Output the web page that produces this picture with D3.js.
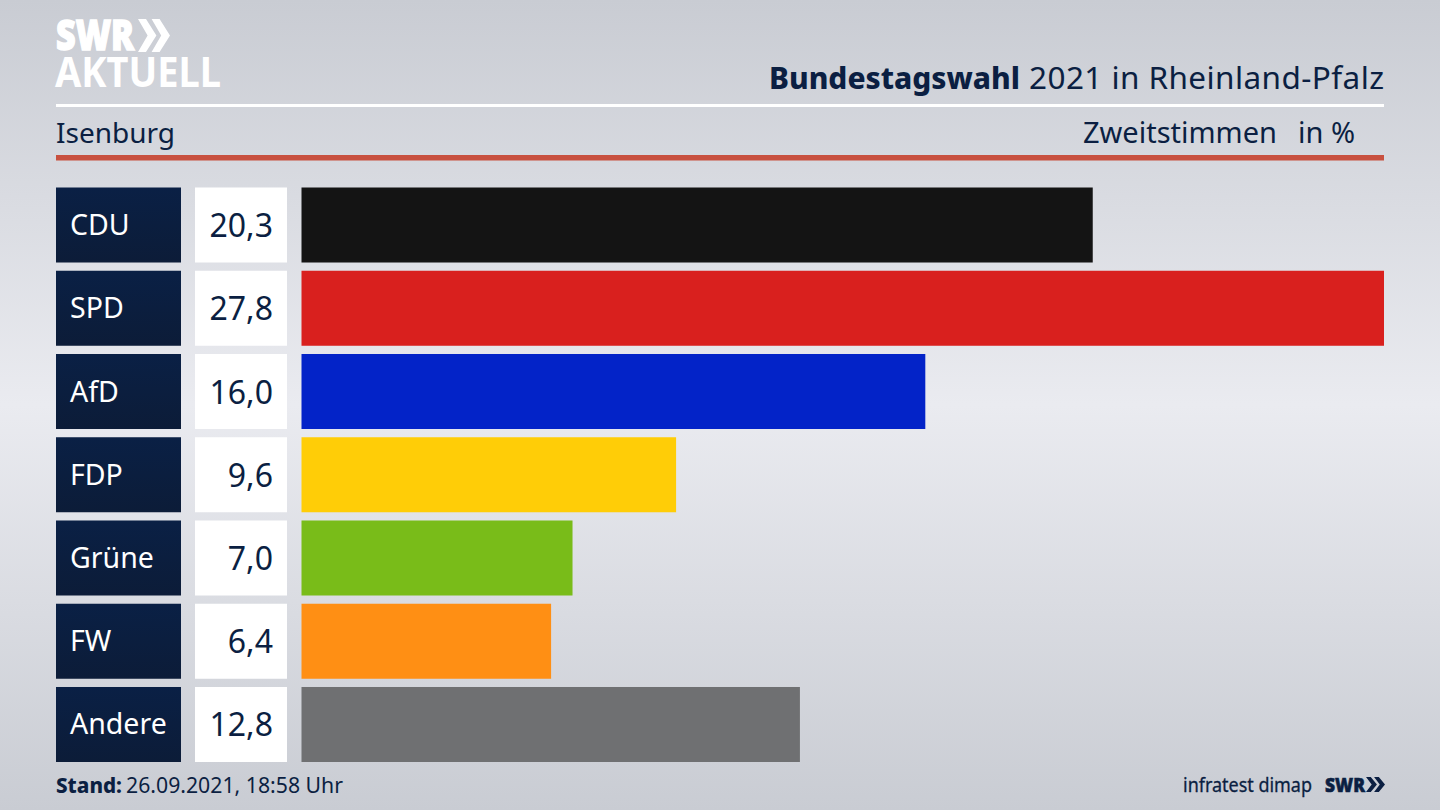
<!DOCTYPE html>
<html lang="de"><head><meta charset="utf-8">
<script src="https://cdn.jsdelivr.net/npm/d3@7"></script>
<style>html,body{margin:0;padding:0;overflow:hidden;background:#d8dae0}svg{display:block}text{font-family:"Noto Sans",sans-serif}</style>
</head><body><svg id="c" width="1440" height="810"></svg>
<script>
const parties = ["CDU","SPD","AfD","FDP","Grüne","FW","Andere"];
const values = [20.32,27.8,16.02,9.62,6.96,6.41,12.8];
const labels = ["20,3","27,8","16,0","9,6","7,0","6,4","12,8"];
const colors = ["#141414","#d9201e","#0323c8","#ffcd07","#79bc19","#ff8f14","#6f7072"];
const navy = "#0b1f42";

const svg = d3.select("#c");
const defs = svg.append("defs");
const bg = defs.append("linearGradient").attr("id","bg").attr("x1",0).attr("x2",0).attr("y1",0).attr("y2",1);
[[0,"#c9ccd3"],[0.5,"#eaebf0"],[1,"#c9ccd3"]].forEach(([o,c])=>bg.append("stop").attr("offset",o).attr("stop-color",c));
const pb = defs.append("linearGradient").attr("id","pb").attr("x1",0).attr("x2",0).attr("y1",0).attr("y2",1);
[[0,"#0a2045"],[1,"#0c1c38"]].forEach(([o,c])=>pb.append("stop").attr("offset",o).attr("stop-color",c));
svg.append("rect").attr("width",1440).attr("height",810).attr("fill","url(#bg)");

const x = d3.scaleLinear().domain([0,27.8]).range([301.5,1384]);
const y = d3.scaleBand().domain(parties).range([187.5,762]).paddingInner(0.099);

const rows = svg.selectAll("g.row").data(parties).join("g").attr("class","row");
rows.append("rect").attr("x",56).attr("width",125).attr("y",d=>y(d)).attr("height",y.bandwidth()).attr("fill","url(#pb)");
rows.append("rect").attr("x",195).attr("width",92).attr("y",d=>y(d)).attr("height",y.bandwidth()).attr("fill","#fff");
rows.append("rect").attr("x",x(0)).attr("y",d=>y(d)).attr("height",y.bandwidth())
  .attr("width",(d,i)=>x(values[i])-x(0)).attr("fill",(d,i)=>colors[i]);
rows.append("text").attr("x",70).attr("y",d=>y(d)+y.bandwidth()/2+10).attr("font-size",28.5).attr("fill","#fff").text(d=>d);
rows.append("text").attr("x",273).attr("y",d=>y(d)+y.bandwidth()/2+12).attr("font-size",32).attr("text-anchor","end").attr("fill",navy).text((d,i)=>labels[i]);

// rules
svg.append("rect").attr("x",56).attr("y",104).attr("width",1328).attr("height",3).attr("fill","#fff");
svg.append("rect").attr("x",56).attr("y",155).attr("width",1328).attr("height",5.5).attr("fill","#c8503f");

// header
svg.append("text").attr("x",769).attr("y",89).attr("font-size",31).attr("font-weight",800).attr("fill",navy)
  .attr("textLength",251).attr("lengthAdjust","spacingAndGlyphs").text("Bundestagswahl");
svg.append("text").attr("x",1029).attr("y",89).attr("font-size",31.5).attr("fill",navy)
  .attr("textLength",355).attr("lengthAdjust","spacing").text("2021 in Rheinland-Pfalz");
svg.append("text").attr("x",56).attr("y",142.5).attr("font-size",28).attr("fill",navy).text("Isenburg");
svg.append("text").attr("x",1277).attr("y",142.5).attr("text-anchor","end").attr("font-size",29).attr("fill",navy).text("Zweitstimmen");
svg.append("text").attr("x",1355).attr("y",142.5).attr("text-anchor","end").attr("font-size",29).attr("fill",navy).text("in %");

// footer
svg.append("text").attr("x",56).attr("y",793).attr("font-size",22).attr("font-weight",800).attr("fill",navy)
  .attr("textLength",66).attr("lengthAdjust","spacingAndGlyphs").text("Stand:");
svg.append("text").attr("x",126).attr("y",793).attr("font-size",21.5).attr("fill",navy)
  .attr("textLength",217).attr("lengthAdjust","spacingAndGlyphs").text("26.09.2021, 18:58 Uhr");
svg.append("text").attr("x",1183).attr("y",792).attr("font-size",19.5).attr("fill",navy).attr("stroke",navy).attr("stroke-width",0.3).attr("textLength",129).attr("lengthAdjust","spacingAndGlyphs").text("infratest dimap");

// logos
function chevrons(g,x0,y0,h,w,color){
  [0,w*0.85].forEach(dx=>g.append("path")
    .attr("d",d3.line()([[x0+dx,y0],[x0+dx+w*0.5,y0],[x0+dx+w*1.15,y0+h/2],[x0+dx+w*0.5,y0+h],[x0+dx,y0+h],[x0+dx+w*0.6,y0+h/2]])+"Z")
    .attr("fill",color));
}
const lg = svg.append("g");
lg.append("text").attr("x",56).attr("y",50).attr("font-size",42).attr("font-weight",900).attr("fill","#fff").attr("stroke","#fff").attr("stroke-width",1.5).attr("textLength",78).attr("lengthAdjust","spacingAndGlyphs").text("SWR");
chevrons(lg,138,19,33,16,"#fff");
lg.append("text").attr("x",55).attr("y",87).attr("font-size",42).attr("font-weight",700).attr("fill","#fff").attr("textLength",166).attr("lengthAdjust","spacingAndGlyphs").text("AKTUELL");
const fg = svg.append("g");
fg.append("text").attr("x",1325).attr("y",792).attr("font-size",20).attr("font-weight",900).attr("fill",navy).attr("stroke",navy).attr("stroke-width",0.6).attr("textLength",40).attr("lengthAdjust","spacingAndGlyphs").text("SWR");
chevrons(fg,1366,777,15,9.5,navy);
</script></body></html>
